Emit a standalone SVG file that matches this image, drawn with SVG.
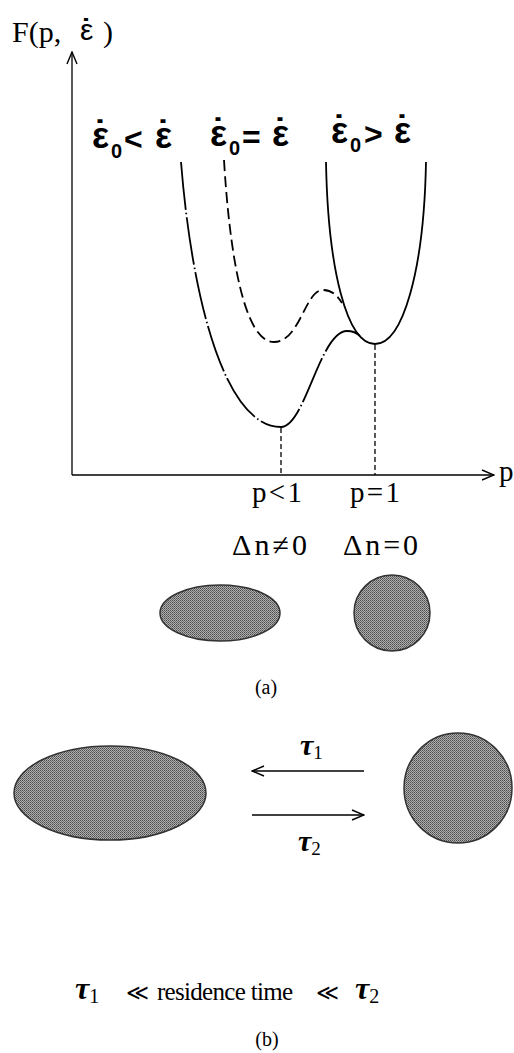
<svg xmlns="http://www.w3.org/2000/svg" width="514" height="1053" viewBox="0 0 514 1053">
<style>
.ax{fill:none;stroke:#000;stroke-width:1.3}
.cv{fill:none;stroke:#000;stroke-width:1.8}
.vd{fill:none;stroke:#000;stroke-width:1.3;stroke-dasharray:5 3}
.blob{stroke:#333;stroke-width:1.5}
.serif{font-family:"Liberation Serif","Times New Roman",serif;fill:#000}
.sans{font-family:"Liberation Sans",Arial,sans-serif;fill:#000;font-weight:bold}
.tau{font-family:"Liberation Serif","Times New Roman",serif;font-style:italic;font-weight:bold;fill:#000}
</style>
<defs>
<marker id="open" viewBox="0 0 14 12" refX="13" refY="6" markerWidth="14" markerHeight="12" markerUnits="userSpaceOnUse" orient="auto">
<path d="M1,1 L13,6 L1,11" fill="none" stroke="#000" stroke-width="1.4"/>
</marker>
<pattern id="dots" width="2" height="2" patternUnits="userSpaceOnUse">
<rect width="2" height="2" fill="#b0b0b0"/>
<rect width="1" height="1" fill="#4a4a4a"/>
<rect x="1" y="1" width="1" height="1" fill="#6a6a6a"/>
</pattern>
</defs>

<g id="axes">
<line class="ax" x1="72" y1="475" x2="72" y2="52" marker-end="url(#open)"/>
<line class="ax" x1="72" y1="475" x2="494" y2="475" marker-end="url(#open)"/>
<text class="serif" x="12" y="42" font-size="30">F(p, <tspan font-family="Liberation Sans, Arial, sans-serif" x="80" y="40">ε</tspan><tspan font-family="Liberation Sans, Arial, sans-serif" font-weight="bold" dx="-12.5" y="40">˙</tspan><tspan x="103" y="42">)</tspan></text>
<text class="serif" x="499" y="481" font-size="29">p</text>
</g>

<g id="curves">
<path class="cv" d="M326,162 C328,270 347,344 375,344 C403,344 424,270 426,162"/>
<path class="cv" stroke-dasharray="48 3 1.5 3" d="M181,162 C192,300 225,427 281,427 C305,427 320,331 347,331 C353,331 357,333 360,336"/>
<path class="cv" stroke-dasharray="11 5" d="M224,160 C230,260 245,342 274,342 C300,342 305,290 323,290 C333,290 338,297 342,303"/>
<line class="vd" x1="281" y1="428" x2="281" y2="475"/>
<line class="vd" x1="375" y1="345" x2="375" y2="475"/>
</g>

<g id="label-lt">
<text class="sans" font-size="36"><tspan x="92" y="148">ε</tspan><tspan dx="-15" y="146">˙</tspan><tspan x="111" y="158" font-size="20">0</tspan><tspan x="124" y="150" font-size="32">&lt;</tspan><tspan x="155" y="148">ε</tspan><tspan dx="-15" y="146">˙</tspan></text>
</g>
<g id="label-eq">
<text class="sans" font-size="36"><tspan x="210" y="146">ε</tspan><tspan dx="-15" y="144">˙</tspan><tspan x="229" y="155" font-size="20">0</tspan><tspan x="242" y="148" font-size="32">=</tspan><tspan x="272" y="146">ε</tspan><tspan dx="-15" y="144">˙</tspan></text>
</g>
<g id="label-gt">
<text class="sans" font-size="36"><tspan x="331" y="143">ε</tspan><tspan dx="-15" y="141">˙</tspan><tspan x="350" y="152" font-size="20">0</tspan><tspan x="364" y="145" font-size="32">&gt;</tspan><tspan x="394" y="143">ε</tspan><tspan dx="-15" y="141">˙</tspan></text>
</g>

<g id="ticks">
<text class="serif" x="252" y="502" font-size="29" textLength="50">p&lt;1</text>
<text class="serif" x="350" y="502" font-size="29" textLength="50">p=1</text>
<text class="serif" x="232" y="555" font-size="30" textLength="75">Δn≠0</text>
<text class="serif" x="343" y="555" font-size="30" textLength="75">Δn=0</text>
</g>

<g id="shape-a-ellipse">
<ellipse class="blob" fill="url(#dots)" cx="220" cy="613" rx="60" ry="28"/>
</g>
<g id="shape-a-circle">
<circle class="blob" fill="url(#dots)" cx="392" cy="613" r="38"/>
</g>
<text class="serif" x="266" y="694" font-size="20" text-anchor="middle">(a)</text>

<g id="shape-b-ellipse">
<ellipse class="blob" fill="url(#dots)" cx="110" cy="793" rx="96" ry="47"/>
</g>
<g id="shape-b-circle">
<ellipse class="blob" fill="url(#dots)" cx="458" cy="788" rx="54" ry="55"/>
</g>

<g id="connectors">
<line class="ax" x1="364" y1="771" x2="252" y2="771" marker-end="url(#open)"/>
<line class="ax" x1="252" y1="815" x2="364" y2="815" marker-end="url(#open)"/>
</g>
<text class="tau" x="300" y="755" font-size="30">τ<tspan font-size="19" dy="4" font-style="normal" font-weight="normal">1</tspan></text>
<text class="tau" x="298" y="851" font-size="30">τ<tspan font-size="19" dy="4" font-style="normal" font-weight="normal">2</tspan></text>

<g id="relation">
<text class="tau" x="75" y="999" font-size="32">τ<tspan font-size="20" dy="4" font-style="normal" font-weight="normal">1</tspan></text>
<text class="serif" x="126" y="1000" font-size="22">≪</text>
<text class="serif" x="157" y="1000" font-size="25" textLength="136">residence time</text>
<text class="serif" x="316" y="1000" font-size="22">≪</text>
<text class="tau" x="355" y="999" font-size="32">τ<tspan font-size="20" dy="4" font-style="normal" font-weight="normal">2</tspan></text>
</g>
<text class="serif" x="267" y="1046" font-size="20" text-anchor="middle">(b)</text>
</svg>
